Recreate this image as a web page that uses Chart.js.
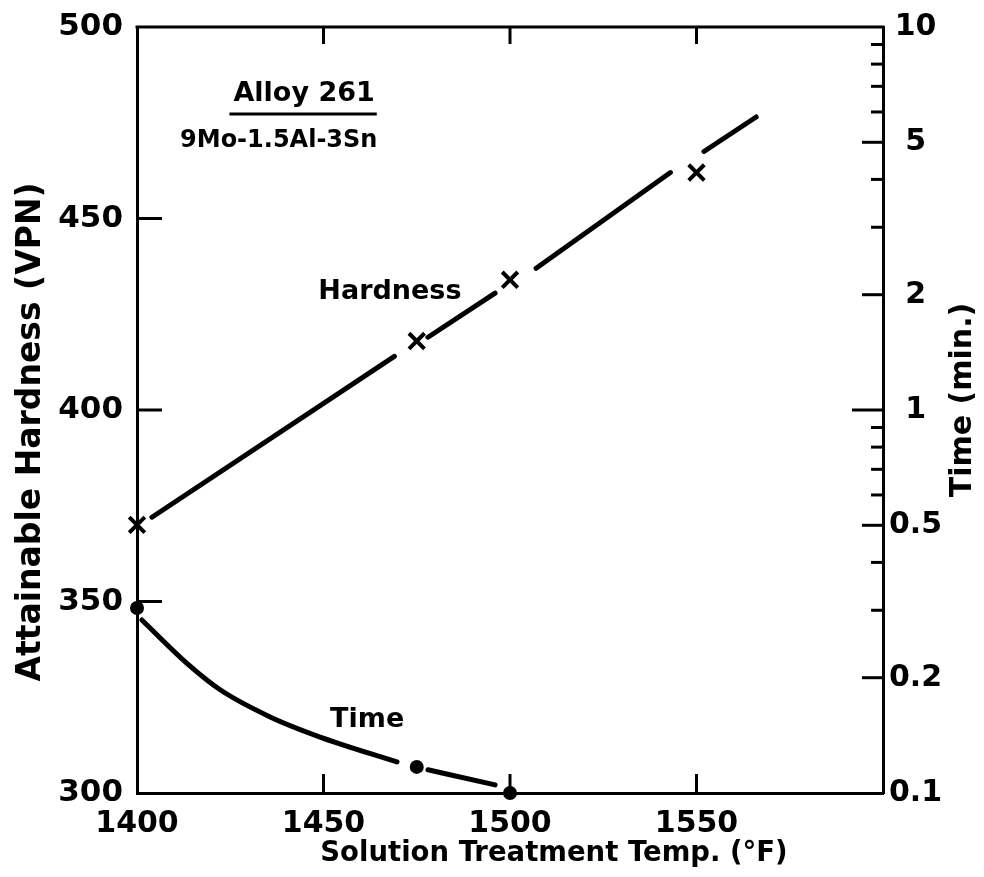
<!DOCTYPE html>
<html><head><meta charset="utf-8">
<script src="https://cdn.jsdelivr.net/npm/chart.js@4"></script>
<style>html,body{margin:0;padding:0;background:#fff}#wrap{width:984px;height:877px;position:relative}</style>
</head><body><div id="wrap"><canvas id="c" width="984" height="877"></canvas></div>
<script>
// ---- data ----
const tempTicks = [1400, 1450, 1500, 1550];
const hardnessTicks = [300, 350, 400, 450, 500];
const timeLabelTicks = [0.1, 0.2, 0.5, 1, 2, 5, 10];
const timeMinorTicks = [0.3, 0.4, 0.6, 0.7, 0.8, 0.9, 3, 4, 6, 7, 8, 9];

const hardnessTemps = [1400, 1475, 1500, 1550];
const hardnessValues = [370, 418, 434, 462];
const hardnessLineTemps = [1404, 1469, 1475, 1478, 1496, 1500, 1507, 1543, 1550, 1552, 1566];
const hardnessLineValues = [372, 414, null, 419, 430.5, null, 437, 462, null, 467.5, 476.5];

const timeTemps = [1400, 1475, 1500];
const timeValues = [0.304, 0.117, 0.1];
const timeCurveTemps = [1401.3, 1413.4, 1422.3, 1435.7, 1449.1, 1469.7, 1475, 1478, 1496];
const timeCurveValues = [0.283, 0.218, 0.186, 0.158, 0.140, 0.1205, null, 0.115, 0.105];

const xTitle = 'Solution Treatment Temp. (°F)';
const yTitle = 'Attainable Hardness (VPN)';
const y2Title = 'Time (min.)';

const pts = (xs, ys) => xs.map((x, i) => ({x: x, y: ys[i]}));

Chart.defaults.font.family = "'DejaVu Sans', sans-serif";
Chart.defaults.color = '#000';

const frameAndTicks = {
  id: 'frameAndTicks',
  afterDraw(chart) {
    const {ctx, chartArea: a, scales} = chart;
    ctx.save();
    ctx.strokeStyle = '#000'; ctx.lineWidth = 3; ctx.lineCap = 'butt';
    const line = (x1, y1, x2, y2) => { ctx.beginPath(); ctx.moveTo(x1, y1); ctx.lineTo(x2, y2); ctx.stroke(); };
    // top frame edge
    line(a.left - 1.5, a.top, a.right + 1.5, a.top);
    scales.x.ticks.forEach(t => {
      if (t.value <= scales.x.min || t.value >= scales.x.max) return;
      const px = scales.x.getPixelForValue(t.value);
      line(px, a.bottom, px, a.bottom - 19);
      line(px, a.top, px, a.top + 17);
    });
    scales.y.ticks.forEach(t => {
      if (t.value <= scales.y.min || t.value >= scales.y.max) return;
      const py = scales.y.getPixelForValue(t.value);
      line(a.left, py, a.left + 25, py);
    });
    scales.y2.ticks.forEach(t => {
      const v = t.value;
      if (v <= scales.y2.min || v >= scales.y2.max) return;
      const py = scales.y2.getPixelForValue(v);
      const len = (v === 1) ? 31 : (timeLabelTicks.includes(v) ? 21 : 12);
      line(a.right, py, a.right - len, py);
    });
    ctx.restore();
  }
};

const annotations = {
  id: 'annotations',
  afterDraw(chart) {
    const {ctx, scales} = chart;
    const X = v => scales.x.getPixelForValue(v);
    const Y = v => scales.y.getPixelForValue(v);
    const Y2 = v => scales.y2.getPixelForValue(v);
    ctx.save();
    ctx.fillStyle = '#000';
    ctx.textAlign = 'center';
    ctx.textBaseline = 'middle';
    ctx.font = "bold 27px 'DejaVu Sans', sans-serif";
    ctx.fillText('Alloy 261', X(1444.8), Y(482.5));
    const w = ctx.measureText('Alloy 261').width;
    ctx.lineWidth = 3; ctx.strokeStyle = '#000';
    ctx.beginPath();
    ctx.moveTo(X(1444.8) - w / 2 - 4, Y(477.3));
    ctx.lineTo(X(1444.8) + w / 2 + 2, Y(477.3));
    ctx.stroke();
    ctx.font = "bold 24px 'DejaVu Sans', sans-serif";
    ctx.fillText('9Mo-1.5Al-3Sn', X(1438), Y(470.2));
    ctx.font = "bold 27px 'DejaVu Sans', sans-serif";
    ctx.fillText('Hardness', X(1467.8), Y(430.8));
    ctx.fillText('Time', X(1461.7), Y2(0.155));
    // axis titles
    ctx.font = "bold 27.5px 'DejaVu Sans', sans-serif";
    ctx.fillText(xTitle, 554, 854);
    ctx.font = "bold 33px 'DejaVu Sans', sans-serif";
    ctx.save(); ctx.translate(31, 432); ctx.rotate(-Math.PI / 2); ctx.fillText(yTitle, 0, 0); ctx.restore();
    ctx.font = "bold 30px 'DejaVu Sans', sans-serif";
    ctx.save(); ctx.translate(963, 400); ctx.rotate(-Math.PI / 2); ctx.fillText(y2Title, 0, 0); ctx.restore();
    ctx.restore();
  }
};

const border = {display: true, color: '#000', width: 3};
const tickFont = {size: 30, weight: 'bold'};
const noGrid = {display: false, drawTicks: false};
const fitY = w => s => { s.width = w; s.paddingTop = 0; s.paddingBottom = 0; };

new Chart(document.getElementById('c'), {
  type: 'scatter',
  data: {
    datasets: [
      {
        label: 'Hardness points', data: pts(hardnessTemps, hardnessValues), xAxisID: 'x', yAxisID: 'y',
        showLine: false, pointStyle: 'crossRot', pointRadius: 11, pointBorderWidth: 4,
        borderColor: '#000', backgroundColor: '#000', clip: false
      },
      {
        label: 'Time points', data: pts(timeTemps, timeValues), xAxisID: 'x', yAxisID: 'y2',
        showLine: false, pointStyle: 'circle', pointRadius: 7, pointBorderWidth: 0,
        borderColor: '#000', backgroundColor: '#000', clip: false
      },
      {
        label: 'Hardness', data: pts(hardnessLineTemps, hardnessLineValues), xAxisID: 'x', yAxisID: 'y',
        showLine: true, spanGaps: false, pointRadius: 0, borderWidth: 5, borderColor: '#000',
        borderCapStyle: 'round'
      },
      {
        label: 'Time', data: pts(timeCurveTemps, timeCurveValues), xAxisID: 'x', yAxisID: 'y2',
        showLine: true, spanGaps: false, pointRadius: 0, borderWidth: 5, borderColor: '#000',
        cubicInterpolationMode: 'monotone', borderCapStyle: 'round'
      }
    ]
  },
  options: {
    responsive: false,
    animation: false,
    devicePixelRatio: 1,
    layout: {padding: {top: 27, left: 0, right: 0, bottom: 0}},
    plugins: {legend: {display: false}, tooltip: {enabled: false}},
    scales: {
      x: {
        type: 'linear', position: 'bottom', min: 1400, max: 1600,
        afterBuildTicks: s => { s.ticks = tempTicks.map(v => ({value: v})); },
        ticks: {font: tickFont, color: '#000', padding: 13, maxRotation: 0, autoSkip: false,
                callback: v => String(v)},
        grid: noGrid, border: border,
        afterFit: s => { s.height = 84; s.paddingLeft = 0; s.paddingRight = 0; }
      },
      y: {
        type: 'linear', position: 'left', min: 300, max: 500,
        afterBuildTicks: s => { s.ticks = hardnessTicks.map(v => ({value: v})); },
        ticks: {font: {size: 31, weight: 'bold'}, color: '#000', padding: 14, autoSkip: false,
                callback: v => String(v)},
        grid: noGrid, border: border,
        afterFit: fitY(137)
      },
      y2: {
        type: 'logarithmic', position: 'right', min: 0.1, max: 10,
        afterBuildTicks: s => { s.ticks = timeLabelTicks.concat(timeMinorTicks).sort((a, b) => a - b).map(v => ({value: v})); },
        ticks: {
          font: tickFont, color: '#000', padding: 6, autoSkip: false, crossAlign: 'center',
          callback: v => timeLabelTicks.includes(v) ? String(v) : ''
        },
        grid: noGrid, border: border,
        afterFit: fitY(101)
      }
    }
  },
  plugins: [frameAndTicks, annotations]
});
</script>
</body></html>
